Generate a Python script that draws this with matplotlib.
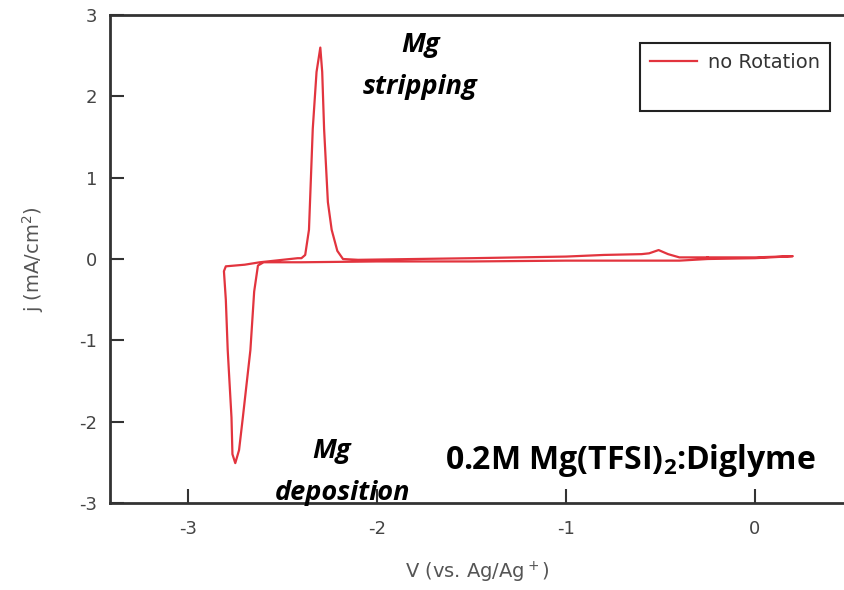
import matplotlib
matplotlib.use("Agg")
import matplotlib.pyplot as plt
from matplotlib.lines import Line2D

# Cyclic voltammogram (V vs Ag/Ag+, j in mA/cm2)
volt = [-0.25, 0.0, 0.2, 0.0, -0.25, -0.4, -1.0, -1.5, -2.0, -2.4, -2.6,
        -2.63, -2.65, -2.67, -2.71, -2.73, -2.75, -2.765, -2.77, -2.79, -2.80, -2.81,
        -2.80, -2.7, -2.62, -2.5, -2.42, -2.40, -2.38, -2.36, -2.34, -2.32, -2.30,
        -2.29, -2.28, -2.26, -2.24, -2.21, -2.18, -2.1, -1.5, -1.0, -0.8, -0.6,
        -0.56, -0.51, -0.46, -0.40, -0.25]
curr = [0.02, 0.02, 0.035, 0.01, 0.0, -0.02, -0.02, -0.03, -0.03, -0.04, -0.04,
        -0.08, -0.4, -1.12, -1.95, -2.35, -2.51, -2.4, -1.95, -1.12, -0.5, -0.15,
        -0.09, -0.07, -0.04, -0.01, 0.01, 0.01, 0.05, 0.36, 1.6, 2.3, 2.60,
        2.3, 1.6, 0.7, 0.36, 0.1, 0.0, -0.01, 0.01, 0.03, 0.05, 0.06,
        0.07, 0.11, 0.06, 0.02, 0.02]

xticks = [-3, -2, -1, 0]
yticks = [-3, -2, -1, 0, 1, 2, 3]

plt.rcParams['axes.unicode_minus'] = False
plt.rcParams['mathtext.fontset'] = 'custom'
plt.rcParams['mathtext.rm'] = 'Open Sans:bold'

fig = plt.figure(figsize=(8.44, 5.90), dpi=100)
ax = fig.add_axes([0.1303, 0.1475, 0.8697, 0.827])

ax.plot(volt, curr, color='#e2343e', lw=1.6, label='no Rotation')

ax.set_xlim(-3.413, 0.471)
ax.set_ylim(-3, 3)
ax.set_xticks(xticks)
ax.set_yticks(yticks)
ax.spines['right'].set_visible(False)
for s in ['left', 'top', 'bottom']:
    ax.spines[s].set_color('#333333')
    ax.spines[s].set_linewidth(2)
ax.tick_params(direction='in', length=10, width=1.5, color='#333333',
               labelsize=13, labelcolor='#444444')
ax.tick_params(axis='x', pad=12)
ax.tick_params(axis='y', pad=9)

ax.set_xlabel('V (vs. Ag/Ag$\\mathregular{^+}$)', fontsize=14, color='#555555',
              labelpad=16, family='DejaVu Sans')
ax.set_ylabel('j (mA/cm$\\mathregular{^2}$)', fontsize=14, color='#555555',
              labelpad=24, family='DejaVu Sans')

# legend box is taller than its single entry
blank = Line2D([], [], color='none')
leg = ax.legend([ax.lines[0], blank], ['no Rotation', ' '], loc='upper right',
                bbox_to_anchor=(0.981, 0.943), borderaxespad=0, fontsize=14,
                fancybox=False, framealpha=1, edgecolor='#222222',
                handlelength=2.4, handletextpad=0.6, borderpad=0.5,
                labelspacing=0.55)
leg.get_frame().set_linewidth(1.5)
for t in leg.get_texts():
    t.set_color('#333333')

bi = dict(family='Open Sans', weight='bold', style='italic', fontsize=19.5,
          ha='center', va='center', color='black')
ax.text(-1.77, 2.63, 'Mg', **bi)
ax.text(-1.77, 2.12, 'stripping', **bi)
ax.text(-2.24, -2.36, 'Mg', **bi)
ax.text(-2.18, -2.88, 'deposition', **bi)
ax.text(-0.66, -2.48, '0.2M Mg(TFSI)$_2$:Diglyme', family='Open Sans',
        weight='bold', fontsize=23, ha='center', va='center')

fig.savefig('out.png', dpi=100)
